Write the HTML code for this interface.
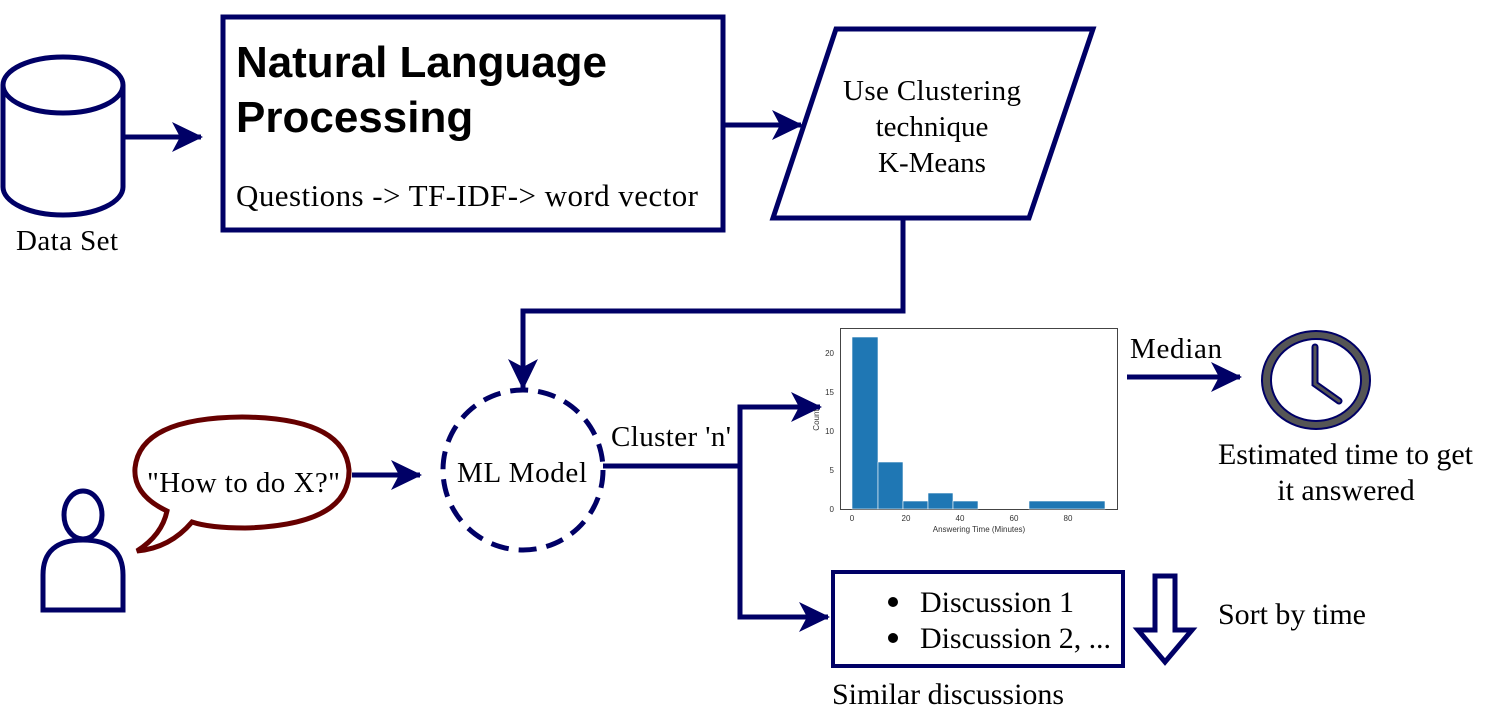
<!DOCTYPE html>
<html><head><meta charset="utf-8"><style>
html,body{margin:0;padding:0;background:#fff;}
svg{display:block;}
.s{font-family:"Liberation Serif",serif;fill:#000;}
</style></head><body>
<svg width="1496" height="712" viewBox="0 0 1496 712" xmlns="http://www.w3.org/2000/svg">
<g stroke="#000066" stroke-width="5" fill="none">
<path d="M3,85 L3,187 A60,28 0 0 0 123,187 L123,85" fill="#fff"/>
<ellipse cx="63" cy="85" rx="60" ry="28" fill="#fff"/>
<rect x="223" y="17" width="500" height="213" fill="#fff"/>
<polygon points="836,29 1093,29 1029,218 773,218" fill="#fff"/>
<circle cx="523" cy="470" r="80" stroke-dasharray="18,10" fill="#fff"/>
<rect x="833" y="572" width="290" height="94" stroke-width="4"/>
<path d="M1155,576 L1175,576 L1175,630 L1192,630 L1165,662 L1138,630 L1155,630 Z" stroke-width="5"/>
<ellipse cx="83" cy="515" rx="19" ry="24" stroke-width="5"/>
<path d="M43,610 L43,575 Q43,540 83,540 Q123,540 123,575 L123,610 Z" stroke-width="5"/>
</g>
<g stroke="#000066" stroke-width="5" fill="none">
<line x1="125" y1="137" x2="201" y2="137"/>
<line x1="725" y1="125" x2="801" y2="125"/>
<polyline points="903,220 903,311 523,311 523,388"/>
<line x1="352" y1="475" x2="420" y2="475"/>
<polyline points="603,466 740,466 740,407 820,407"/>
<polyline points="740,466 740,617 828,617"/>
<line x1="1127" y1="377" x2="1240" y2="377"/>
</g>
<g fill="#000066">
<path d="M203,137 L172,122 L180,137 L172,152 Z"/>
<path d="M803,125 L772,110 L780,125 L772,140 Z"/>
<path d="M523,390 L508,359 L523,367 L538,359 Z"/>
<path d="M422,475 L391,460 L399,475 L391,490 Z"/>
<path d="M822,407 L791,392 L799,407 L791,422 Z"/>
<path d="M830,617 L799,602 L807,617 L799,632 Z"/>
<path d="M1242,377 L1211,362 L1219,377 L1211,392 Z"/>
</g>
<path d="M167,511 Q133,495 135,468 Q140,418 242,417 Q345,418 349,470 Q350,525 245,528 Q210,528 192,522 Q170,548 137,551 Q162,535 167,511 Z" fill="#fff" stroke="#660000" stroke-width="5"/>
<ellipse cx="1316" cy="380" rx="54" ry="49" fill="#555" stroke="#000066" stroke-width="2"/>
<ellipse cx="1316" cy="380" rx="45" ry="41" fill="#fff" stroke="#000066" stroke-width="2"/>
<polyline points="1315,347 1315,384 1339,401" fill="none" stroke="#000066" stroke-width="7" stroke-linecap="round"/>
<polyline points="1315,347 1315,384 1339,401" fill="none" stroke="#555" stroke-width="3" stroke-linecap="round"/>
<rect x="840.5" y="328.5" width="277" height="181" fill="#fff" stroke="#444" stroke-width="1"/>
<g fill="#1f77b4" stroke="#fff" stroke-width="0.6">
<rect x="852" y="337" width="26" height="172"/>
<rect x="878" y="462" width="25" height="47"/>
<rect x="903" y="501" width="25" height="8"/>
<rect x="928" y="493" width="25" height="16"/>
<rect x="953" y="501" width="25" height="8"/>
<rect x="1029" y="501" width="76" height="8"/>
</g>
<g font-family="Liberation Sans,sans-serif" font-size="8" fill="#333">
<text x="834" y="356" text-anchor="end">20</text>
<text x="834" y="395" text-anchor="end">15</text>
<text x="834" y="434" text-anchor="end">10</text>
<text x="834" y="473" text-anchor="end">5</text>
<text x="834" y="512" text-anchor="end">0</text>
<text x="852" y="521" text-anchor="middle">0</text>
<text x="906" y="521" text-anchor="middle">20</text>
<text x="960" y="521" text-anchor="middle">40</text>
<text x="1014" y="521" text-anchor="middle">60</text>
<text x="1068" y="521" text-anchor="middle">80</text>
<text x="979" y="532" text-anchor="middle">Answering Time (Minutes)</text>
<text x="819" y="420" text-anchor="middle" transform="rotate(-90 819 420)">Count</text>
</g>
<text x="16" y="250" class="s" font-size="29" textLength="102">Data Set</text>
<text x="236" y="77" font-family="Liberation Sans,sans-serif" font-weight="bold" font-size="44" fill="#000" textLength="371">Natural Language</text>
<text x="236" y="132" font-family="Liberation Sans,sans-serif" font-weight="bold" font-size="44" fill="#000">Processing</text>
<text x="236" y="206" class="s" font-size="31" textLength="462">Questions -&gt; TF-IDF-&gt; word vector</text>
<text x="843" y="100" class="s" font-size="29" textLength="178">Use Clustering</text>
<text x="932" y="136" class="s" font-size="29" text-anchor="middle">technique</text>
<text x="932" y="172" class="s" font-size="29" text-anchor="middle">K-Means</text>
<text x="147" y="492" class="s" font-size="29" textLength="193">"How to do X?"</text>
<text x="457" y="482" class="s" font-size="29" textLength="130">ML Model</text>
<text x="611" y="446" class="s" font-size="29" textLength="120">Cluster 'n'</text>
<text x="1130" y="358" class="s" font-size="29" textLength="92">Median</text>
<text x="1218" y="464" class="s" font-size="30" textLength="255">Estimated time to get</text>
<text x="1346" y="500" class="s" font-size="30" text-anchor="middle">it answered</text>
<text x="1218" y="624" class="s" font-size="30" textLength="148">Sort by time</text>
<circle cx="893" cy="602" r="5" fill="#000"/>
<circle cx="893" cy="638" r="5" fill="#000"/>
<text x="920" y="612" class="s" font-size="30" textLength="154">Discussion 1</text>
<text x="920" y="648" class="s" font-size="30" textLength="191">Discussion 2, ...</text>
<text x="832" y="704" class="s" font-size="30" textLength="232">Similar discussions</text>
</svg>
</body></html>
